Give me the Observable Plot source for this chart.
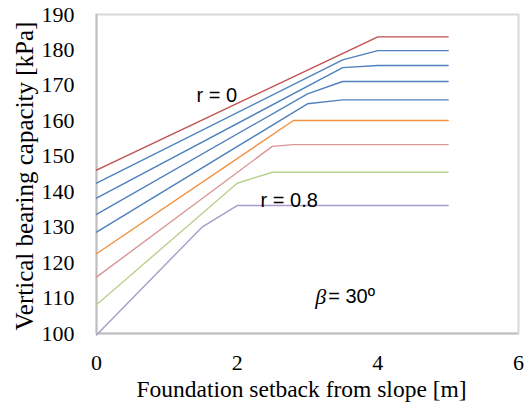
<!DOCTYPE html>
<html>
<head>
<meta charset="utf-8">
<script src="https://cdn.jsdelivr.net/npm/d3@7"></script>
<script src="https://cdn.jsdelivr.net/npm/@observablehq/plot@0.6"></script>
<style>
  html, body { margin: 0; padding: 0; background: #fff; }
  #chart { width: 532px; height: 402px; }
</style>
</head>
<body>
<div id="chart"></div>
<script>
// Series: ratio r, setback points [m], vertical bearing capacity [kPa]
const rValues = [0, 0.1, 0.2, 0.3, 0.4, 0.5, 0.6, 0.7, 0.8];
const setback_r00 = [0, 4, 5];
const capacity_r00 = [146.1, 183.7, 183.7];
const setback_r01 = [0, 3.5, 4, 5];
const capacity_r01 = [142.4, 177.2, 179.8, 179.8];
const setback_r02 = [0, 3.5, 4, 5];
const capacity_r02 = [138.2, 175.0, 175.6, 175.6];
const setback_r03 = [0, 3, 3.5, 5];
const capacity_r03 = [133.6, 167.6, 171.1, 171.1];
const setback_r04 = [0, 3, 3.5, 5];
const capacity_r04 = [128.6, 164.8, 165.9, 165.9];
const setback_r05 = [0, 2.8, 5];
const capacity_r05 = [122.5, 160.1, 160.1];
const setback_r06 = [0, 2.5, 2.8, 5];
const capacity_r06 = [115.9, 152.8, 153.3, 153.3];
const setback_r07 = [0, 2, 2.5, 5];
const capacity_r07 = [108.1, 142.4, 145.5, 145.5];
const setback_r08 = [0, 1.5, 2, 5];
const capacity_r08 = [99.6, 130.0, 136.1, 136.1];

const xTicks = [0, 2, 4, 6];
const yTicks = [100, 110, 120, 130, 140, 150, 160, 170, 180, 190];
const xTitle = "Foundation setback from slope [m]";
const yTitle = "Vertical bearing capacity [kPa]";
const seriesLabels = [
  {text: "r = 0", x: 1.71, y: 167.1},
  {text: "r = 0.8", x: 2.74, y: 137.6}
];
const betaLabel = {symbol: "β", rest: "= 30º", x: 3.28, y: 110.4};

const colors = ["#c0504d", "#4f81bd", "#4f81bd", "#4f81bd", "#4f81bd",
                "#f0913f", "#d99694", "#b9d18f", "#a99bcb"];

const setbacks = [setback_r00, setback_r01, setback_r02, setback_r03, setback_r04,
                  setback_r05, setback_r06, setback_r07, setback_r08];
const capacities = [capacity_r00, capacity_r01, capacity_r02, capacity_r03, capacity_r04,
                    capacity_r05, capacity_r06, capacity_r07, capacity_r08];

const rows = [];
rValues.forEach((r, i) => {
  setbacks[i].forEach((x, j) => rows.push({r: String(r), x, v: capacities[i][j]}));
});

const sans = "Liberation Sans, Arial, sans-serif";
const serif = "Liberation Serif, Times New Roman, serif";

const chart = Plot.plot({
  width: 532,
  height: 402,
  marginLeft: 96,
  marginTop: 14,
  marginRight: 14,
  marginBottom: 69,
  style: {fontFamily: serif, fontSize: "22px", background: "#fff", color: "#000"},
  x: {domain: [0, 6]},
  y: {domain: [100, 190]},
  color: {type: "ordinal", domain: rValues.map(String), range: colors},
  marks: [
    Plot.frame({stroke: "#d9d9d9", strokeWidth: 2}),
    Plot.ruleX([0], {stroke: "#bfbfbf", strokeWidth: 2}),
    Plot.ruleY([100], {stroke: "#bfbfbf", strokeWidth: 2}),
    Plot.line(rows, {x: "x", y: "v", z: "r", stroke: "r", strokeWidth: 1.4}),
    Plot.axisX({ticks: xTicks, tickFormat: d => String(d), tickSize: 0, tickPadding: 21, label: null, fontSize: 22, fontFamily: serif}),
    Plot.axisY({ticks: yTicks, tickFormat: d => String(d), tickSize: 0, tickPadding: 22, label: null, fontSize: 22, fontFamily: serif}),
    Plot.text([xTitle], {frameAnchor: "bottom", dx: -6, dy: 56, text: d => d, fontSize: 23.5, fontFamily: serif, textAnchor: "middle", lineAnchor: "middle"}),
    Plot.text([yTitle], {frameAnchor: "left", dx: -72, dy: 2, rotate: -90, text: d => d, fontSize: 25, fontFamily: serif, textAnchor: "middle", lineAnchor: "middle"}),
    Plot.text(seriesLabels, {x: "x", y: "y", text: "text", fontSize: 20, fontFamily: sans, fill: "#000", textAnchor: "middle", lineAnchor: "middle"}),
    Plot.text([betaLabel], {x: "x", y: "y", text: "symbol", fontSize: 22, fontFamily: serif, fontStyle: "italic", fill: "#000", textAnchor: "end", lineAnchor: "middle", dx: -1}),
    Plot.text([betaLabel], {x: "x", y: "y", text: "rest", fontSize: 20, fontFamily: sans, fill: "#000", textAnchor: "start", lineAnchor: "middle", dx: 1})
  ]
});
document.getElementById("chart").appendChild(chart);
</script>
</body>
</html>
